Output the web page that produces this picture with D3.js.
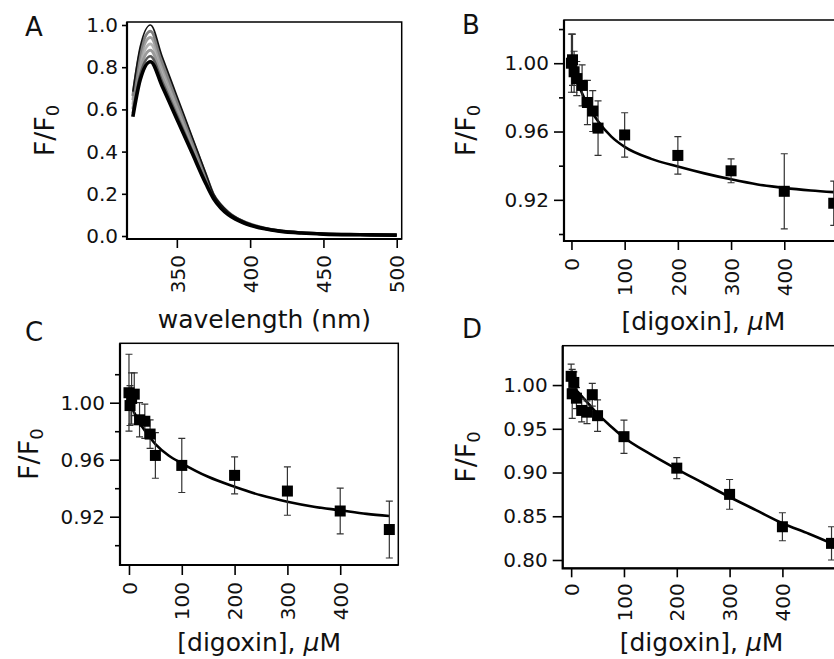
<!DOCTYPE html>
<html>
<head>
<meta charset="utf-8">
<script src="https://cdn.jsdelivr.net/npm/d3@7"></script>
<style>
  body { margin: 0; background: #fff; }
  svg { display: block; font-family: "DejaVu Sans", sans-serif; }
</style>
</head>
<body>
<div id="chart"></div>
<script>
// Panel A: emission spectra (F/F0)
const wavelengths = [320, 325, 332, 340, 350, 360, 370, 375, 380, 385, 390, 395, 400, 410, 420, 435, 450, 475, 500];
const spectrum1 = [0.684, 0.897, 1.000, 0.851, 0.665, 0.479, 0.293, 0.200, 0.150, 0.115, 0.090, 0.072, 0.058, 0.038, 0.026, 0.016, 0.011, 0.007, 0.005];
const spectrum2 = [0.664, 0.870, 0.970, 0.827, 0.646, 0.466, 0.285, 0.196, 0.147, 0.113, 0.088, 0.071, 0.057, 0.037, 0.025, 0.016, 0.011, 0.007, 0.005];
const spectrum3 = [0.644, 0.844, 0.941, 0.803, 0.628, 0.452, 0.277, 0.193, 0.144, 0.111, 0.087, 0.069, 0.056, 0.037, 0.025, 0.015, 0.010, 0.007, 0.005];
const spectrum4 = [0.622, 0.815, 0.910, 0.778, 0.608, 0.438, 0.268, 0.189, 0.141, 0.108, 0.085, 0.068, 0.054, 0.036, 0.024, 0.015, 0.010, 0.006, 0.004];
const spectrum5 = [0.602, 0.789, 0.880, 0.754, 0.589, 0.424, 0.260, 0.185, 0.138, 0.106, 0.083, 0.066, 0.053, 0.035, 0.024, 0.015, 0.010, 0.006, 0.004];
const spectrum6 = [0.583, 0.764, 0.852, 0.731, 0.572, 0.412, 0.252, 0.181, 0.136, 0.104, 0.082, 0.065, 0.052, 0.035, 0.023, 0.014, 0.009, 0.006, 0.004];
const spectrum7 = [0.565, 0.740, 0.826, 0.710, 0.555, 0.400, 0.245, 0.178, 0.133, 0.102, 0.080, 0.064, 0.051, 0.034, 0.023, 0.014, 0.009, 0.006, 0.004];

// Panels B-D: titration points
const digoxin = [0, 2, 5, 10, 20, 30, 40, 50, 100, 200, 300, 400, 493];
const valuesB = [1.000, 1.002, 0.995, 0.991, 0.987, 0.977, 0.972, 0.962, 0.958, 0.946, 0.937, 0.925, 0.918];
const errorsB = [0.017, 0.015, 0.012, 0.010, 0.012, 0.013, 0.012, 0.016, 0.013, 0.011, 0.007, 0.022, 0.013];
const valuesC = [1.007, 0.998, 1.003, 1.006, 0.988, 0.987, 0.978, 0.963, 0.956, 0.949, 0.938, 0.924, 0.911];
const errorsC = [0.027, 0.014, 0.018, 0.015, 0.012, 0.012, 0.010, 0.016, 0.019, 0.013, 0.017, 0.016, 0.020];
const valuesD = [1.010, 0.990, 1.003, 0.985, 0.971, 0.969, 0.989, 0.965, 0.941, 0.905, 0.875, 0.838, 0.819];
const errorsD = [0.014, 0.028, 0.012, 0.012, 0.013, 0.013, 0.013, 0.018, 0.019, 0.012, 0.017, 0.016, 0.019];

// Fitted curves
const fitX = [0, 10, 25, 50, 75, 100, 150, 200, 250, 300, 350, 400, 450, 493];
const fitB = [1.000, 0.990, 0.979, 0.966, 0.957, 0.951, 0.944, 0.9395, 0.9355, 0.932, 0.929, 0.927, 0.9255, 0.9245];
const fitC = [1.000, 0.993, 0.983, 0.971, 0.963, 0.9575, 0.948, 0.941, 0.935, 0.9305, 0.927, 0.9245, 0.922, 0.9205];
const fitD = [1.000, 0.994, 0.984, 0.967, 0.953, 0.940, 0.921, 0.904, 0.888, 0.872, 0.857, 0.842, 0.830, 0.819];

// Tick labels
const wavelengthTicks = [350, 400, 450, 500];
const spectrumTicks = [0.0, 0.2, 0.4, 0.6, 0.8, 1.0];
const digoxinTicks = [0, 100, 200, 300, 400];
const ticksBC = [0.92, 0.96, 1.00];
const minorBC = [0.90, 0.94, 0.98, 1.02];
const ticksD = [0.80, 0.85, 0.90, 0.95, 1.00];

const svg = d3.select("#chart")
    .append("svg")
    .attr("width", 834)
    .attr("height", 659);

// Draw the frame, axes and titles of one panel, return the scales
function drawFrame(p) {
    const x = d3.scaleLinear().domain(p.xDomain).range([p.left, p.right]);
    const y = d3.scaleLinear().domain(p.yDomain).range([p.bottom, p.top]);
    const g = svg.append("g");

    // y axis (major + optional minor ticks)
    g.append("g")
        .attr("transform", `translate(${p.left},0)`)
        .call(d3.axisLeft(y).tickValues(p.yTicks).tickSize(p.yTick).tickPadding(p.yPad)
            .tickFormat(d3.format(p.yFormat)));
    if (p.yMinor) {
        g.append("g")
            .attr("transform", `translate(${p.left},0)`)
            .call(d3.axisLeft(y).tickValues(p.yMinor).tickSize(5).tickFormat(""));
    }

    // x axis with rotated labels
    const gx = g.append("g")
        .attr("transform", `translate(0,${p.bottom})`)
        .call(d3.axisBottom(x).tickValues(p.xTicks).tickSize(p.xTick));
    gx.selectAll("text")
        .attr("transform", "rotate(-90)")
        .attr("text-anchor", "end")
        .attr("x", -p.xLabelOff)
        .attr("y", 0)
        .attr("dy", "0.36em");

    g.selectAll(".domain").remove();
    g.selectAll(".tick line").attr("stroke", "#000").attr("stroke-width", 1.6);
    g.selectAll(".tick text")
        .attr("fill", "#111")
        .style("font-family", "DejaVu Sans, sans-serif")
        .style("font-size", "20px");

    // box
    g.append("rect")
        .attr("x", p.left).attr("y", p.top)
        .attr("width", p.right - p.left).attr("height", p.bottom - p.top)
        .attr("fill", "none").attr("stroke", "#000").attr("stroke-width", 1.5);
    g.append("path")
        .attr("d", `M${p.left},${p.top}V${p.bottom}H${p.right}`)
        .attr("fill", "none").attr("stroke", "#000").attr("stroke-width", 2.2);

    // axis titles
    const xt = g.append("text")
        .attr("x", (p.left + p.right) / 2)
        .attr("y", p.xTitleY)
        .attr("text-anchor", "middle")
        .style("font-size", "25px")
        .attr("fill", "#111");
    if (p.xTitle === "digoxin") {
        xt.append("tspan").text("[digoxin], ");
        xt.append("tspan").style("font-style", "italic").text("\u03bc");
        xt.append("tspan").text("M");
    } else {
        xt.text(p.xTitle);
    }

    const cy = (p.top + p.bottom) / 2;
    const yt = g.append("text")
        .attr("transform", `translate(${p.yTitleX},${cy}) rotate(-90)`)
        .attr("text-anchor", "middle")
        .style("font-size", "27px")
        .attr("fill", "#111");
    yt.append("tspan").text("F/F");
    yt.append("tspan").attr("dy", "0.3em").style("font-size", "18px").text("0");

    // panel letter
    g.append("text")
        .attr("x", p.letterX)
        .attr("y", p.letterY)
        .style("font-size", "26px")
        .attr("fill", "#111")
        .text(p.letter);

    return { x, y, g };
}

// Titration panel: fit line, error bars, squares
function drawTitration(p, values, errors, fit) {
    const { x, y, g } = drawFrame(p);
    const pts = digoxin.map((d, i) => ({ x: d, v: values[i], e: errors[i] }));

    const line = d3.line()
        .x((d, i) => x(fitX[i]))
        .y(d => y(d))
        .curve(d3.curveMonotoneX);
    g.append("path")
        .datum(fit)
        .attr("d", line)
        .attr("fill", "none")
        .attr("stroke", "#000")
        .attr("stroke-width", 2.6);

    const bars = g.append("g").attr("stroke", "#333").attr("stroke-width", 1.2);
    bars.selectAll(".err")
        .data(pts)
        .enter()
        .append("path")
        .attr("d", d => {
            const cx = x(d.x), y1 = y(d.v + d.e), y2 = y(d.v - d.e);
            return `M${cx},${y1}V${y2}M${cx - 3.5},${y1}H${cx + 3.5}M${cx - 3.5},${y2}H${cx + 3.5}`;
        });

    const s = 11;
    g.selectAll(".pt")
        .data(pts)
        .enter()
        .append("rect")
        .attr("x", d => x(d.x) - s / 2)
        .attr("y", d => y(d.v) - s / 2)
        .attr("width", s)
        .attr("height", s)
        .attr("fill", "#000");
}

// Panel A
const panelA = drawFrame({
    letter: "A", letterX: 25, letterY: 36,
    left: 127, right: 401.7, top: 22, bottom: 239,
    xDomain: [316, 503.4], yDomain: [-0.0142, 1.0142],
    xTicks: wavelengthTicks, yTicks: spectrumTicks, yFormat: ".1f",
    yTick: 5, yPad: 4, xTick: 9, xLabelOff: 16,
    xTitle: "wavelength (nm)", xTitleY: 328, yTitleX: 54
});
const spectra = [spectrum1, spectrum2, spectrum3, spectrum4, spectrum5, spectrum6, spectrum7];
const spectrumColor = ["#111", "#808080", "#a0a0a0", "#b4b4b4", "#9a9a9a", "#5a5a5a", "#000"];
const spectrumWidth = [1.6, 3, 3, 3, 3, 2.6, 3.6];
const specLine = d3.line()
    .x((d, i) => panelA.x(wavelengths[i]))
    .y(d => panelA.y(d))
    .curve(d3.curveMonotoneX);
// draw lighter curves first, outer black ones last
[3, 2, 4, 1, 5, 0, 6].forEach(k => {
    panelA.g.append("path")
        .datum(spectra[k])
        .attr("d", specLine)
        .attr("fill", "none")
        .attr("stroke", spectrumColor[k])
        .attr("stroke-width", spectrumWidth[k])
        .attr("stroke-linejoin", "round");
});

// Panel B
drawTitration({
    letter: "B", letterX: 462, letterY: 34,
    left: 564, right: 842.8, top: 20, bottom: 241,
    xDomain: [-14, 510], yDomain: [0.8959, 1.0253],
    xTicks: digoxinTicks, yTicks: ticksBC, yMinor: minorBC, yFormat: ".2f",
    yTick: 10, yPad: 5, xTick: 9, xLabelOff: 17,
    xTitle: "digoxin", xTitleY: 330, yTitleX: 475
}, valuesB, errorsB, fitB);

// Panel C
drawTitration({
    letter: "C", letterX: 25, letterY: 341,
    left: 120, right: 398.3, top: 343.3, bottom: 565,
    xDomain: [-17, 510], yDomain: [0.8861, 1.0417],
    xTicks: digoxinTicks, yTicks: ticksBC, yMinor: minorBC, yFormat: ".2f",
    yTick: 10, yPad: 5, xTick: 10, xLabelOff: 17,
    xTitle: "digoxin", xTitleY: 651, yTitleX: 38
}, valuesC, errorsC, fitC);

// Panel D
drawTitration({
    letter: "D", letterX: 462, letterY: 338,
    left: 562.7, right: 840.5, top: 345.7, bottom: 568.3,
    xDomain: [-16, 510], yDomain: [0.7905, 1.045],
    xTicks: digoxinTicks, yTicks: ticksD, yFormat: ".2f",
    yTick: 10, yPad: 5, xTick: 9, xLabelOff: 15,
    xTitle: "digoxin", xTitleY: 651, yTitleX: 475
}, valuesD, errorsD, fitD);
</script>
</body>
</html>
